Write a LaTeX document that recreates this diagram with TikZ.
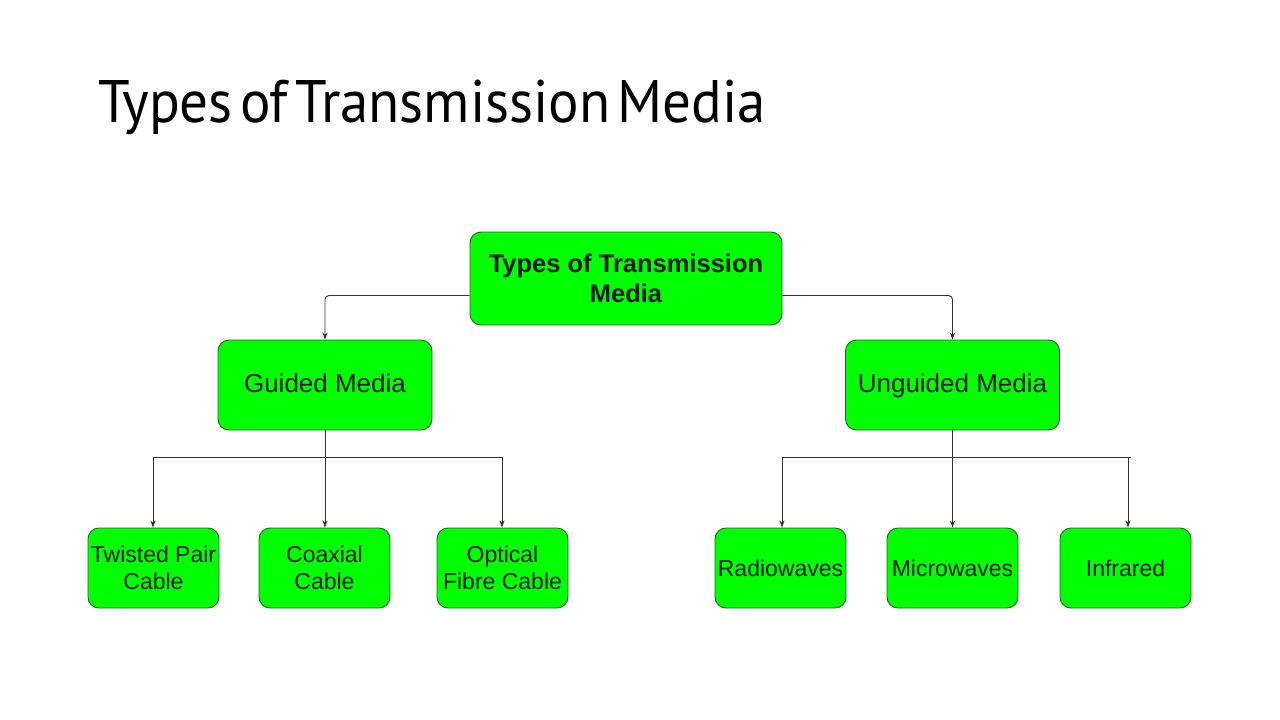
\documentclass[tikz,border=0pt]{standalone}
\usepackage{fontspec}
\setmainfont{Liberation Sans}
\newfontfamily\titlefont[FakeStretch=0.95]{PT Sans}
\usetikzlibrary{arrows.meta,calc}
\definecolor{boxgreen}{HTML}{00FF00}
\definecolor{boxedge}{HTML}{2E5E2E}
\definecolor{lineclr}{HTML}{333333}
\definecolor{txtclr}{HTML}{0A1A0A}
\tikzset{
  box/.style={draw=boxedge, fill=boxgreen, rounded corners=11pt, line width=0.9pt,
    align=center, inner sep=0pt, text=txtclr},
  rootbox/.style={box, minimum width=312pt, minimum height=93pt, font=\fontsize{25.5}{30}\selectfont\bfseries},
  midbox/.style={box, minimum width=214pt, minimum height=90pt, text height=19pt, text depth=5pt, font=\fontsize{26}{30}\selectfont},
  leafbox/.style={box, minimum width=131pt, minimum height=80pt, font=\fontsize{23}{27}\selectfont},
  conn/.style={draw=lineclr, line width=0.9pt, -{Stealth[length=7pt,width=5pt]}},
  plain/.style={draw=lineclr, line width=0.9pt}
}
\begin{document}
\begin{tikzpicture}[x=1pt,y=-1pt]
\useasboundingbox (0,0) rectangle (1280,720);
\fill[white] (0,0) rectangle (1280,720);
\node[anchor=base west, inner sep=0pt, font=\titlefont\fontsize{60}{70}\selectfont] (title) at (98,122) {\spaceskip=0.12em Types of Transmission Media};

\node[rootbox] (root) at (626,278.5) {Types of Transmission\\Media};
\node[midbox] (guided) at (325,385) {Guided Media};
\node[midbox] (unguided) at (952.5,385) {Unguided Media};

\node[leafbox] (tp) at (153.5,568) {Twisted Pair\\Cable};
\node[leafbox] (co) at (324.5,568) {Coaxial\\Cable};
\node[leafbox] (of) at (502.5,568) {Optical\\Fibre Cable};
\node[leafbox] (rw) at (780.5,568) {Radiowaves};
\node[leafbox] (mw) at (952.5,568) {Microwaves};
\node[leafbox] (ir) at (1125.5,568) {Infrared};

\draw[conn, rounded corners=4pt] ([yshift=-17pt]root.west) -| (guided.north);
\draw[conn, rounded corners=4pt] ([yshift=-17pt]root.east) -| (unguided.north);

\coordinate (gb) at (325,457);
\coordinate (ub) at (952.5,457);
\draw[plain] (guided.south) -- (gb);
\draw[plain] (unguided.south) -- (ub);
\draw[conn] (gb) -| ([xshift=-0.5pt]tp.north);
\draw[conn] (gb) -- ([xshift=0.5pt]co.north);
\draw[conn] (gb) -| ([xshift=-0.5pt]of.north);
\draw[conn] (ub) -| ([xshift=1.5pt]rw.north);
\draw[conn] (ub) -- (mw.north);
\draw[conn] (ub) -| ([xshift=2.5pt]ir.north);
\coordinate (ubend) at (1131,457);
\draw[plain] (ub) -- (ubend);
\end{tikzpicture}
\end{document}
